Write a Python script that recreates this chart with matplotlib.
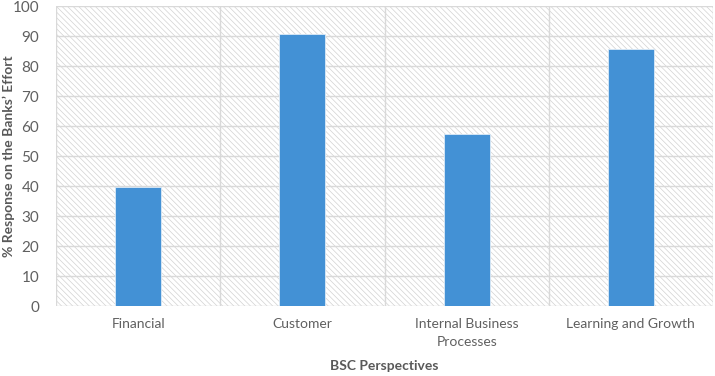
import matplotlib
matplotlib.use("Agg")
import matplotlib.pyplot as plt
from matplotlib.patches import Rectangle
import numpy as np

categories = ["Financial", "Customer", "Internal Business\nProcesses", "Learning and Growth"]
values = [39.8, 90.6, 57.2, 85.7]
yticks = [0, 10, 20, 30, 40, 50, 60, 70, 80, 90, 100]

plt.rcParams['font.family'] = ['Lato', 'DejaVu Sans']
plt.rcParams['hatch.linewidth'] = 0.5

fig = plt.figure(figsize=(7.15, 3.76), dpi=100)
ax = fig.add_axes([56/715, 1 - 306/376, (713-56)/715, 300/376])

x = np.arange(len(categories))
ax.set_xlim(-0.5, len(categories) - 0.5)
ax.set_ylim(0, 100)

# hatched background
bg = Rectangle((0, 0), 1, 1, transform=ax.transAxes, facecolor='white',
               edgecolor='#d2d2d2', linewidth=0, hatch='\\\\\\\\\\\\', zorder=0)
ax.add_patch(bg)

for yv in yticks:
    ax.axhline(yv, color='#d9d9d9', linewidth=1.0, zorder=1)
for b in np.arange(-0.5, len(categories), 1.0):
    ax.axvline(b, color='#d9d9d9', linewidth=1.0, zorder=1)

ax.bar(x, values, width=0.28, color='#4391d5', edgecolor='#dbeaf7', linewidth=0.6, zorder=3)

ax.set_yticks(yticks)
ax.set_yticklabels([str(v) for v in yticks])
ax.set_xticks(x)
ax.set_xticklabels(categories, linespacing=1.55)
ax.tick_params(axis='both', length=0, colors='#606060')
ax.tick_params(axis='y', pad=12, labelsize=11)
ax.tick_params(axis='x', pad=9, labelsize=10)
for s in ax.spines.values():
    s.set_visible(False)

ax.set_xlabel("BSC Perspectives", fontsize=10, fontweight='bold', color='#595959')
ax.xaxis.set_label_coords(0.5, (306 - 360) / 300)
ax.set_ylabel("% Response on the Banks\u2019 Effort", fontsize=10, fontweight='bold', color='#595959')
ax.yaxis.set_label_coords((15 - 56) / 657, 0.5)

fig.savefig("out.png", dpi=100)
